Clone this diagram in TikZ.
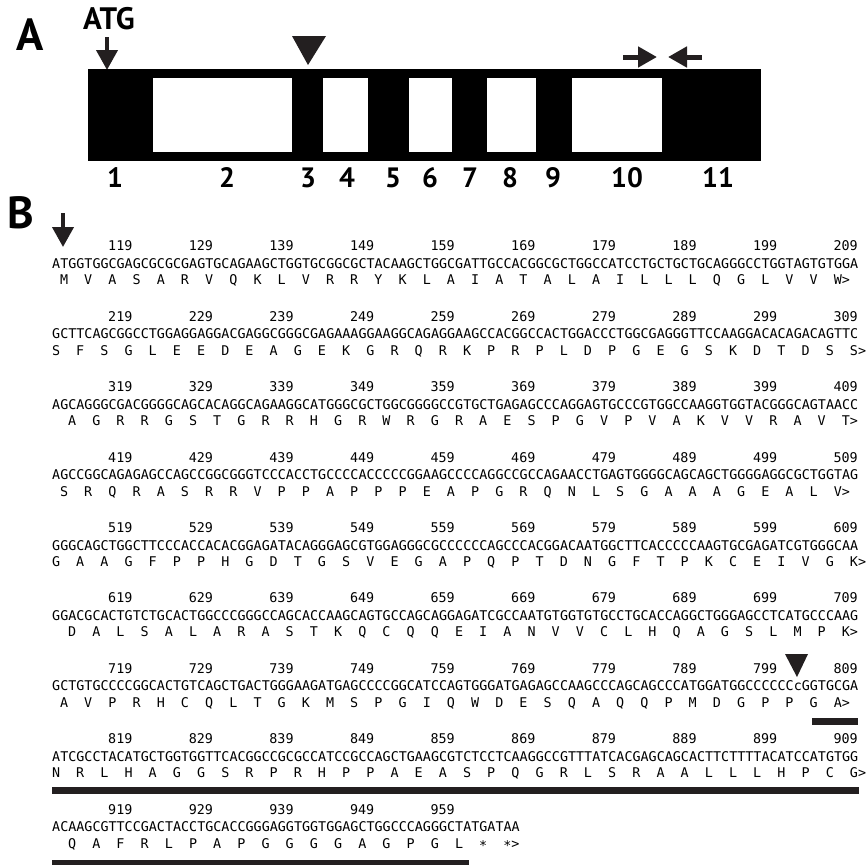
\documentclass[tikz,border=0pt]{standalone}
\usepackage{fontspec}
\setmainfont{PT Sans}
\newfontfamily\seqfont{DejaVu Sans Mono}
\usetikzlibrary{arrows.meta}
\definecolor{ink}{HTML}{231F20}
\newcommand\cw{8.06}
\newcommand\xo{52}
\newcommand\stp{\raisebox{-2.5pt}{*}}
\tikzset{
  panellab/.style={font=\fontsize{45}{45}\selectfont\bfseries, inner sep=0pt, text=black},
  atglab/.style={font=\fontsize{31}{31}\selectfont\bfseries, inner sep=0pt, text=black},
  exonnum/.style={font=\fontsize{28}{28}\selectfont\bfseries, inner sep=0pt, text=black},
  seqtxt/.style={font=\seqfont\fontsize{13.39}{14}\selectfont, inner sep=0pt, anchor=base west},
  numtxt/.style={font=\seqfont\fontsize{13.39}{14}\selectfont, inner sep=0pt, anchor=base east},
  aatxt/.style={font=\seqfont\fontsize{13.39}{14}\selectfont, inner sep=0pt, anchor=base},
  pointer/.style={draw=ink, line width=4pt, -{Triangle[length=20pt,width=21pt]}},
  primer/.style={draw=ink, line width=5pt, -{Triangle[length=19pt,width=20pt]}},
  marker/.style={fill=ink},
  seqbar/.style={fill=ink},
}
% #1 block index, #2 DNA, #3 first number, #4 how many numbers,
% #5 column of first residue, #6 residues, #7 column of ">"
\newcommand\seqblock[7]{%
  \pgfmathsetmacro\yn{246+70.4*#1}%
  \node[seqtxt] (dna#1) at ({\xo}, {\yn+22.4}) {#2};%
  \foreach \j in {1,...,#4}{%
    \pgfmathtruncatemacro\nn{#3+10*(\j-1)}%
    \node[numtxt] (num#1-\j) at ({\xo+10*\j*\cw}, {\yn+4.9}) {\nn};%
  }%
  \foreach \res [count=\i from 0] in {#6}{%
    \node[aatxt] (aa#1-\i) at ({\xo+(#5+3*\i-0.5)*\cw}, {\yn+38.9}) {\res};%
  }%
  \node[aatxt] (end#1) at ({\xo+(#7-0.5)*\cw}, {\yn+38.9}) {>};%
}
\begin{document}
\begin{tikzpicture}[x=1pt,y=-1pt]
\useasboundingbox[fill=white] (0,0) rectangle (868,865);

% ---------- Panel A ----------
\node[panellab] (labA) at (30,35) {A};
\node[atglab] (atg) at (109,19) {ATG};
\coordinate (atgS) at (107,37);
\coordinate (atgE) at (107,70);
\draw[pointer] (atgS) -- (atgE);

\fill[black] (88,69) rectangle (761,161);
\fill[white] (153,78) rectangle (292,152);
\fill[white] (323,78) rectangle (368,152);
\fill[white] (409,78) rectangle (452,152);
\fill[white] (487,78) rectangle (536,152);
\fill[white] (572,78) rectangle (662,152);

\fill[marker] (292,36) -- (326,36) -- (308,65) -- cycle;

\coordinate (fwdS) at (623,57);
\coordinate (fwdE) at (657,57);
\coordinate (revS) at (702,57);
\coordinate (revE) at (668,57);
\draw[primer] (fwdS) -- (fwdE);
\draw[primer] (revS) -- (revE);

\foreach \lab/\xx in {1/115,2/227,3/308,4/347,5/393,6/430,7/470,8/510,9/553,10/627,11/718}
  \node[exonnum] (ex\lab) at (\xx,178) {\lab};

% ---------- Panel B ----------
\node[panellab] (labB) at (21,213) {B};
\coordinate (bS) at (63,213);
\coordinate (bE) at (63,247);
\draw[pointer] (bS) -- (bE);

\seqblock{0}{ATGGTGGCGAGCGCGCGAGTGCAGAAGCTGGTGCGGCGCTACAAGCTGGCGATTGCCACGGCGCTGGCCATCCTGCTGCTGCAGGGCCTGGTAGTGTGGA}{119}{10}{2}{M,V,A,S,A,R,V,Q,K,L,V,R,R,Y,K,L,A,I,A,T,A,L,A,I,L,L,L,Q,G,L,V,V,W}{99}
\seqblock{1}{GCTTCAGCGGCCTGGAGGAGGACGAGGCGGGCGAGAAAGGAAGGCAGAGGAAGCCACGGCCACTGGACCCTGGCGAGGGTTCCAAGGACACAGACAGTTC}{219}{10}{1}{S,F,S,G,L,E,E,D,E,A,G,E,K,G,R,Q,R,K,P,R,P,L,D,P,G,E,G,S,K,D,T,D,S,S}{101}
\seqblock{2}{AGCAGGGCGACGGGGCAGCACAGGCAGAAGGCATGGGCGCTGGCGGGGCCGTGCTGAGAGCCCAGGAGTGCCCGTGGCCAAGGTGGTACGGGCAGTAACC}{319}{10}{3}{A,G,R,R,G,S,T,G,R,R,H,G,R,W,R,G,R,A,E,S,P,G,V,P,V,A,K,V,V,R,A,V,T}{100}
\seqblock{3}{AGCCGGCAGAGAGCCAGCCGGCGGGTCCCACCTGCCCCACCCCCGGAAGCCCCAGGCCGCCAGAACCTGAGTGGGGCAGCAGCTGGGGAGGCGCTGGTAG}{419}{10}{2}{S,R,Q,R,A,S,R,R,V,P,P,A,P,P,P,E,A,P,G,R,Q,N,L,S,G,A,A,A,G,E,A,L,V}{99}
\seqblock{4}{GGGCAGCTGGCTTCCCACCACACGGAGATACAGGGAGCGTGGAGGGCGCCCCCCAGCCCACGGACAATGGCTTCACCCCCAAGTGCGAGATCGTGGGCAA}{519}{10}{1}{G,A,A,G,F,P,P,H,G,D,T,G,S,V,E,G,A,P,Q,P,T,D,N,G,F,T,P,K,C,E,I,V,G,K}{101}
\seqblock{5}{GGACGCACTGTCTGCACTGGCCCGGGCCAGCACCAAGCAGTGCCAGCAGGAGATCGCCAATGTGGTGTGCCTGCACCAGGCTGGGAGCCTCATGCCCAAG}{619}{10}{3}{D,A,L,S,A,L,A,R,A,S,T,K,Q,C,Q,Q,E,I,A,N,V,V,C,L,H,Q,A,G,S,L,M,P,K}{100}
\seqblock{6}{GCTGTGCCCCGGCACTGTCAGCTGACTGGGAAGATGAGCCCCGGCATCCAGTGGGATGAGAGCCAAGCCCAGCAGCCCATGGATGGCCCCCCcGGTGCGA}{719}{10}{2}{A,V,P,R,H,C,Q,L,T,G,K,M,S,P,G,I,Q,W,D,E,S,Q,A,Q,Q,P,M,D,G,P,P,G,A}{99}
\seqblock{7}{ATCGCCTACATGCTGGTGGTTCACGGCCGCGCCATCCGCCAGCTGAAGCGTCTCCTCAAGGCCGTTTATCACGAGCAGCACTTCTTTTACATCCATGTGG}{819}{10}{1}{N,R,L,H,A,G,G,S,R,P,R,H,P,P,A,E,A,S,P,Q,G,R,L,S,R,A,A,L,L,L,H,P,C,G}{101}
\seqblock{8}{ACAAGCGTTCCGACTACCTGCACCGGGAGGTGGTGGAGCTGGCCCAGGGCTATGATAA}{919}{5}{3}{Q,A,F,R,L,P,A,P,G,G,G,G,A,G,P,G,L,\stp,\stp}{58}

% insertion site marker in block 7
\fill[marker] (785,654) -- (808,654) -- (797,677) -- cycle;

% underline bars
\fill[seqbar] (812,718) rectangle (858,725);
\fill[seqbar] (52,787) rectangle (859,794);
\fill[seqbar] (52,860) rectangle (469,866);
\end{tikzpicture}
\end{document}
